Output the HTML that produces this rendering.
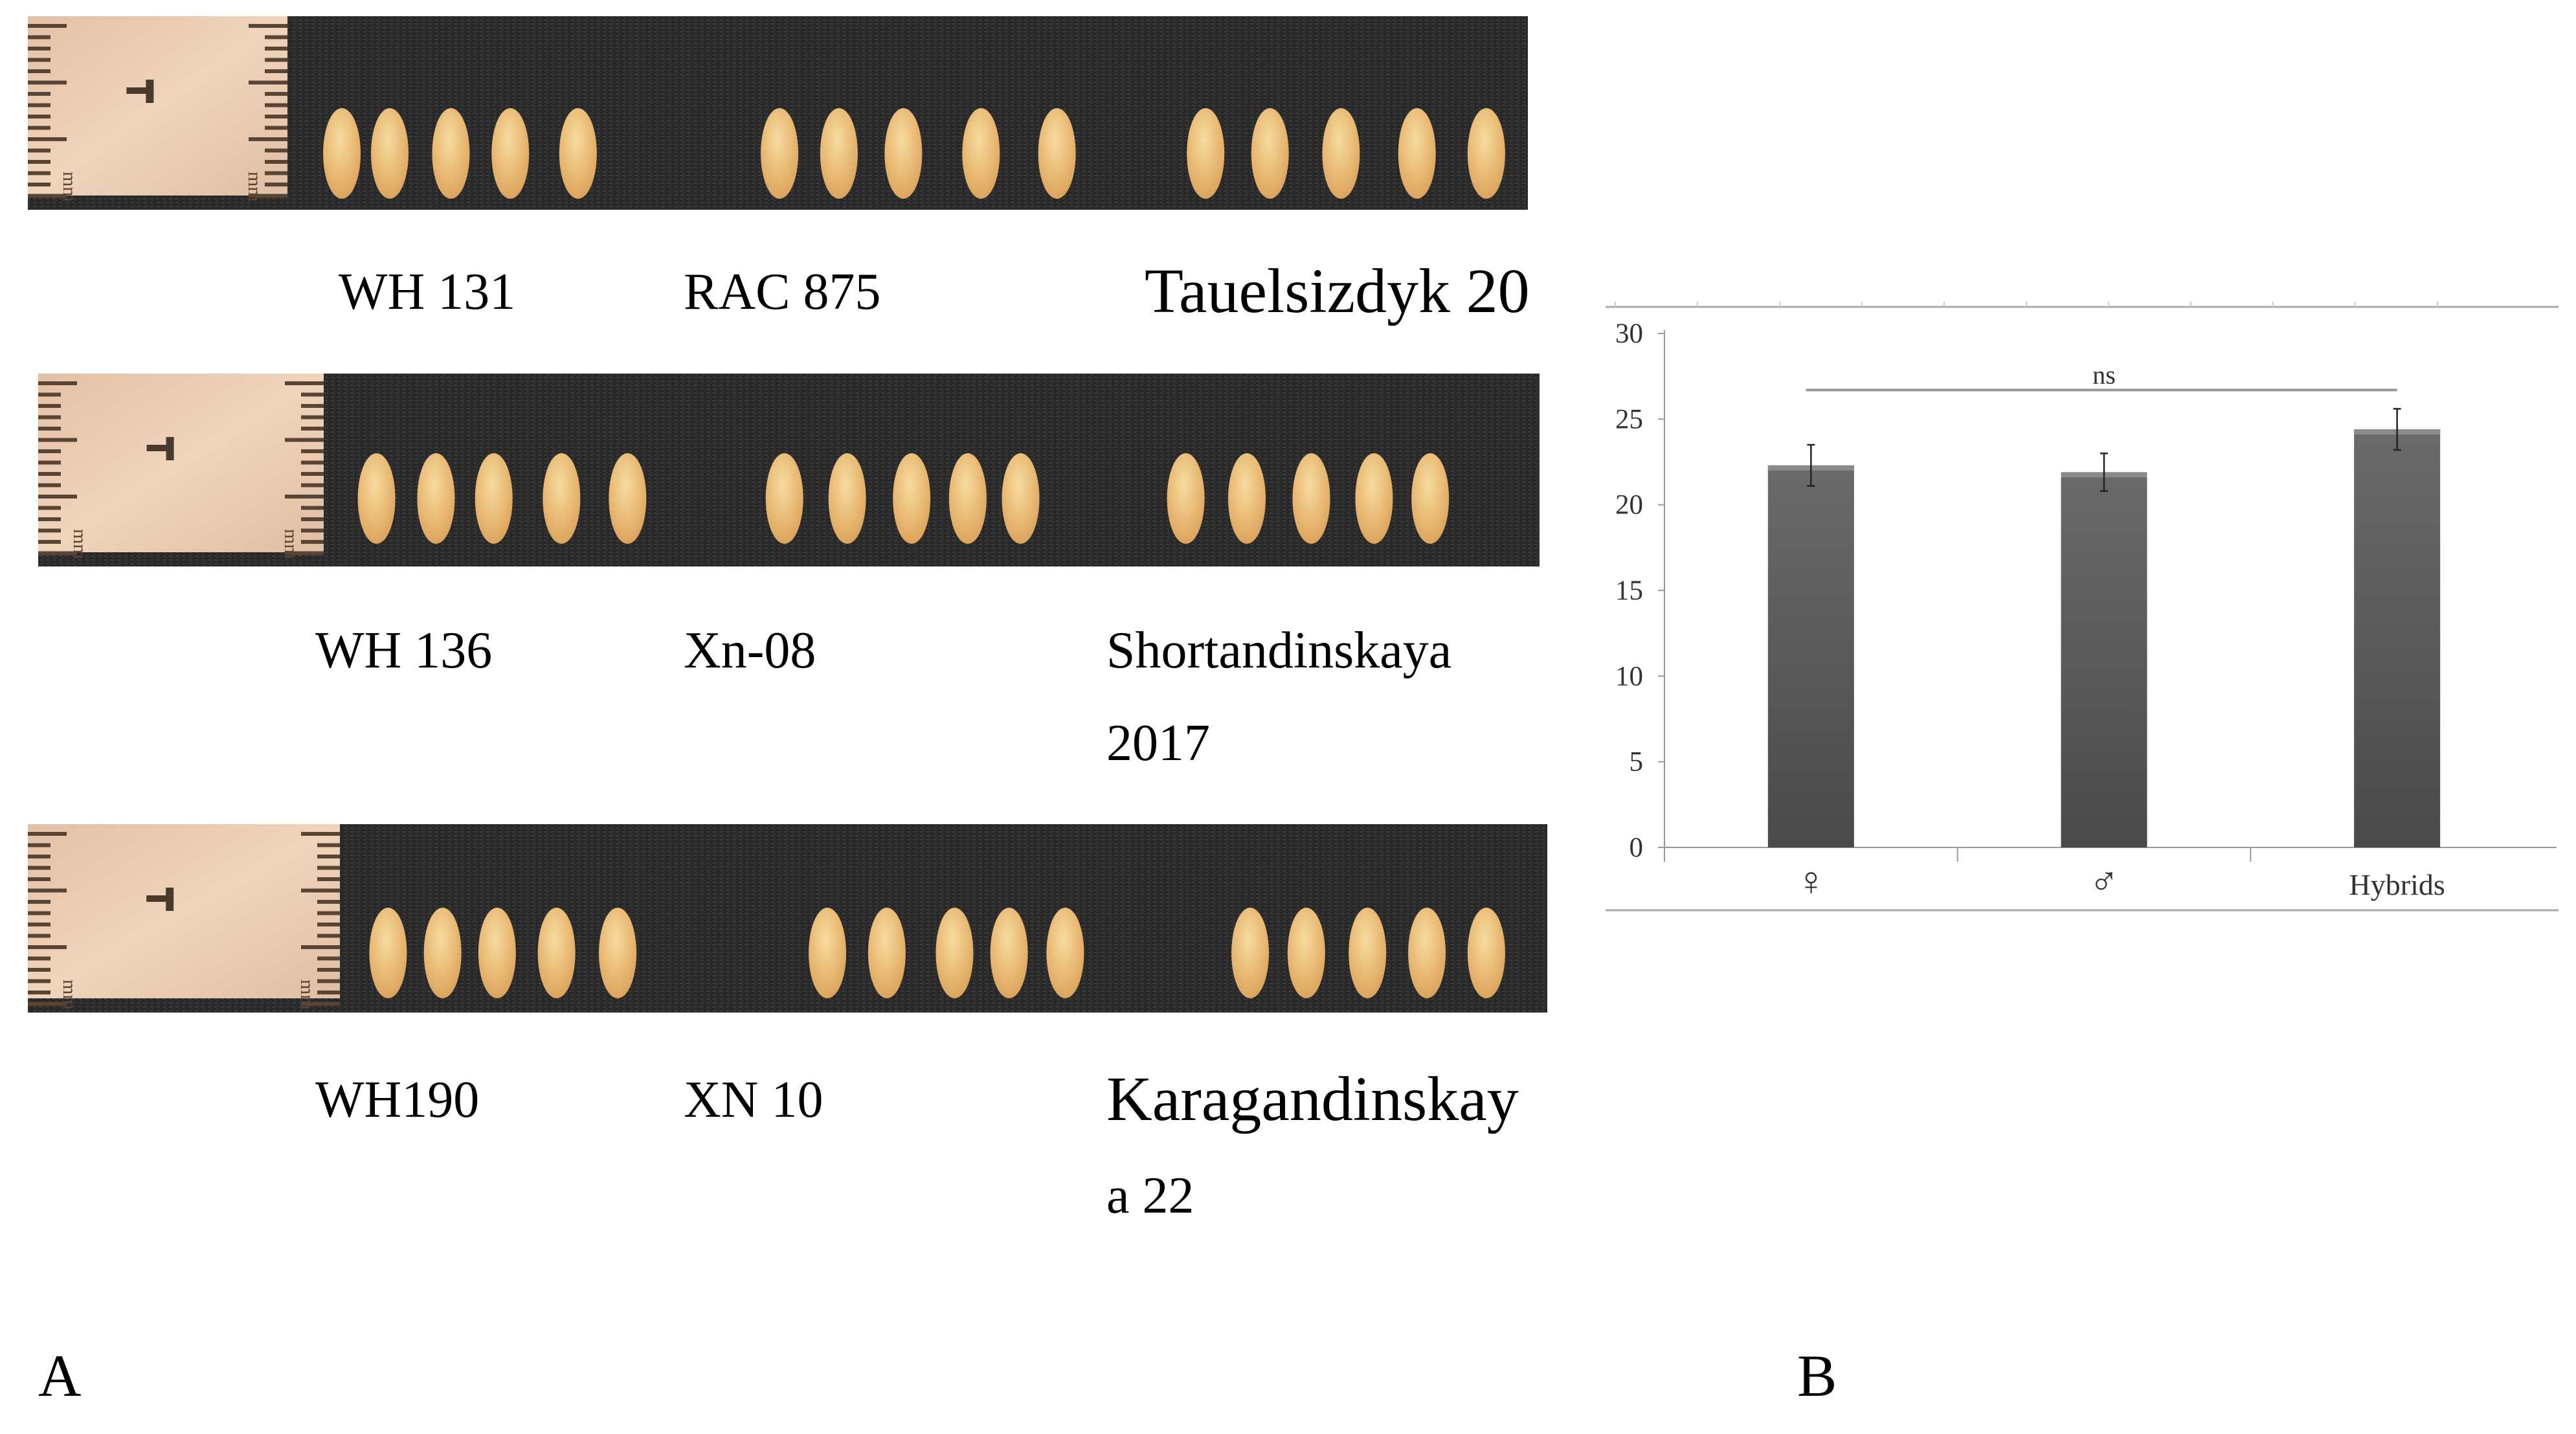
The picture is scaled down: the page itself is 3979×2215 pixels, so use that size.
<!DOCTYPE html>
<html><head><meta charset="utf-8">
<style>
html,body{margin:0;padding:0;background:#fff;}
svg{display:block;}
text{font-family:"Liberation Serif",serif;}
</style></head>
<body>
<svg id="root" width="3979" height="2215" viewBox="0 0 3979 2215" xmlns="http://www.w3.org/2000/svg">
<defs>
<pattern id="cloth" width="10" height="6" patternUnits="userSpaceOnUse">
<rect width="10" height="6" fill="#262626"/>
<rect x="0" y="0" width="7" height="2" fill="#3a3a3a"/>
<rect x="3" y="3" width="6" height="1.5" fill="#333"/>
</pattern>
<linearGradient id="rulerGrad" x1="0" y1="0" x2="1" y2="1">
<stop offset="0" stop-color="#e3c1a6"/><stop offset="0.5" stop-color="#f0d4bc"/><stop offset="1" stop-color="#dfbfa4"/>
</linearGradient>
<radialGradient id="seedGrad" cx="0.45" cy="0.35" r="0.7">
<stop offset="0" stop-color="#f6dca0"/><stop offset="0.6" stop-color="#e8b872"/><stop offset="1" stop-color="#d9a05a"/>
</radialGradient>
<linearGradient id="barGrad" x1="0" y1="0" x2="0" y2="1">
<stop offset="0" stop-color="#6a6a6a"/><stop offset="1" stop-color="#4a4a4a"/>
</linearGradient>
</defs>
<g id="photos"></g>
<g id="labels">
<text x="523" y="477" font-size="80">WH 131</text>
<text x="1056" y="477" font-size="80">RAC 875</text>
<text x="1768" y="482" font-size="98">Tauelsizdyk 20</text>
<text x="487" y="1031" font-size="80">WH 136</text>
<text x="1056" y="1031" font-size="80">Xn-08</text>
<text x="1709" y="1031" font-size="80">Shortandinskaya</text>
<text x="1709" y="1174" font-size="80">2017</text>
<text x="487" y="1725" font-size="80">WH190</text>
<text x="1056" y="1725" font-size="80">XN 10</text>
<text x="1709" y="1730" font-size="98">Karagandinskay</text>
<text x="1709" y="1873" font-size="80">a 22</text>
<text x="59" y="2156" font-size="92">A</text>
<text x="2776" y="2156" font-size="92">B</text>
</g>
<g id="chart"></g>
</svg>
<script>
const NS="http://www.w3.org/2000/svg";
function mk(tag,attrs,parent){const e=document.createElementNS(NS,tag);for(const k in attrs)e.setAttribute(k,attrs[k]);parent.appendChild(e);return e;}

// ---- chart data ----
const categories=['♀','♂','Hybrids'];
const values=[22.3,21.9,24.4];
const errors=[1.2,1.1,1.2];
const yTicks=[0,5,10,15,20,25,30];
const nsLabel='ns';

// ---- photo strips ----
const photos=document.getElementById('photos');
const strips=[
 {x:43,y:25,w:2317,h:299,rw:401,seeds:[207,236,273,309,350,472,508,547,594,640,730,769,812,858,900],cy:237},
 {x:59,y:577,w:2319,h:298,rw:441,seeds:[228,264,299,340,380,475,513,552,586,618,718,755,794,832,866],cy:770},
 {x:43,y:1273,w:2347,h:291,rw:482,seeds:[235,268,301,337,374,501,537,578,611,645,757,791,828,864,900],cy:1472}
];
strips.forEach((s,i)=>{
 const g=mk('g',{},photos);
 
 
 mk('rect',{x:s.x,y:s.y,width:s.w,height:s.h,fill:'url(#cloth)'},g);
 const r=mk('rect',{x:s.x,y:s.y,width:s.rw,height:s.h-22,fill:'url(#rulerGrad)'},g);
 
 
 for(let k=0;k<16;k++){
  const ty=s.y+12+k*17.5;
  const len=(k%5===0)?60:35;
  mk('rect',{x:s.x,y:ty,width:len,height:6,fill:'#5a4535'},g);
  mk('rect',{x:s.x+s.rw-len,y:ty,width:len,height:6,fill:'#5a4535'},g);
 }
 mk('rect',{x:s.x+s.rw*0.38,y:s.y+110,width:40,height:10,fill:'#4a3a2e'},g);
 mk('rect',{x:s.x+s.rw*0.38+30,y:s.y+98,width:12,height:36,fill:'#4a3a2e'},g);
 mk('text',{x:s.x+55,y:s.y+240,'font-size':30,fill:'#5a4535',transform:`rotate(90 ${s.x+55} ${s.y+240})`},g).textContent='mm';
 mk('text',{x:s.x+s.rw-60,y:s.y+240,'font-size':30,fill:'#5a4535',transform:`rotate(90 ${s.x+s.rw-60} ${s.y+240})`},g).textContent='mm';
 s.seeds.forEach((dx,j)=>{
  const e=mk('ellipse',{cx:dx*2.551,cy:s.cy,rx:29,ry:70,fill:'url(#seedGrad)'},g);
  
  
 });
});

const chart=document.getElementById('chart');
const X0=2571,X1=3929,Y0=1309,Y30=515;
const yScale=v=>Y0-(v/30)*(Y0-Y30);
const band=(X1-X0)/categories.length;
const xCenter=i=>X0+band*(i+0.5);
const barW=133;

const topBorder=mk('line',{x1:2480,y1:474,x2:3952,y2:474,stroke:'#aaa','stroke-width':3},chart);


for(let k=0;k<11;k++){mk('line',{x1:2495+k*127,y1:466,x2:2495+k*127,y2:474,stroke:'#ccc','stroke-width':2},chart);}
const bottomBorder=mk('line',{x1:2480,y1:1406,x2:3952,y2:1406,stroke:'#aaa','stroke-width':3},chart);



const yAxis=mk('line',{x1:X0,y1:Y30-5,x2:X0,y2:Y0+22,stroke:'#999','stroke-width':2},chart);


yTicks.forEach(t=>{
 mk('line',{x1:X0-10,y1:yScale(t),x2:X0,y2:yScale(t),stroke:'#999','stroke-width':2},chart);
 const tl=mk('text',{x:2538,y:yScale(t)+14,'font-size':43,'text-anchor':'end',fill:'#333'},chart);
 
 
 tl.textContent=t;
});
const xAxis=mk('line',{x1:X0,y1:Y0,x2:X1+20,y2:Y0,stroke:'#999','stroke-width':2},chart);


for(let i=1;i<categories.length;i++){
 mk('line',{x1:X0+band*i,y1:Y0,x2:X0+band*i,y2:Y0+22,stroke:'#999','stroke-width':2},chart);
}

categories.forEach((c,i)=>{
 const cx=xCenter(i),yt=yScale(values[i]);
 const b=mk('rect',{x:cx-barW/2,y:yt,width:barW,height:Y0-yt,fill:'url(#barGrad)'},chart);
 
 
 mk('rect',{x:cx-barW/2,y:yt,width:barW,height:8,fill:'#8a8a8a'},chart);
 const eg=mk('g',{stroke:'#222','stroke-width':2.5},chart);
 
 
 const ya=yScale(values[i]+errors[i]),yb=yScale(values[i]-errors[i]);
 mk('line',{x1:cx,y1:ya,x2:cx,y2:yb},eg);
 mk('line',{x1:cx-6,y1:ya,x2:cx+6,y2:ya},eg);
 mk('line',{x1:cx-6,y1:yb,x2:cx+6,y2:yb},eg);
 const xl=mk('text',{x:cx,y:1382,'font-size':c.length>1?46:62,'text-anchor':'middle',fill:'#333'},chart);
 
 
 xl.textContent=c;
});

const nsY=yScale(26.7);
const nsl=mk('line',{x1:xCenter(0)-8,y1:nsY,x2:xCenter(2),y2:nsY,stroke:'#999','stroke-width':4},chart);


const nst=mk('text',{x:(xCenter(0)+xCenter(2))/2,y:nsY-10,'font-size':40,'text-anchor':'middle',fill:'#333'},chart);


nst.textContent=nsLabel;
</script>
</body></html>
